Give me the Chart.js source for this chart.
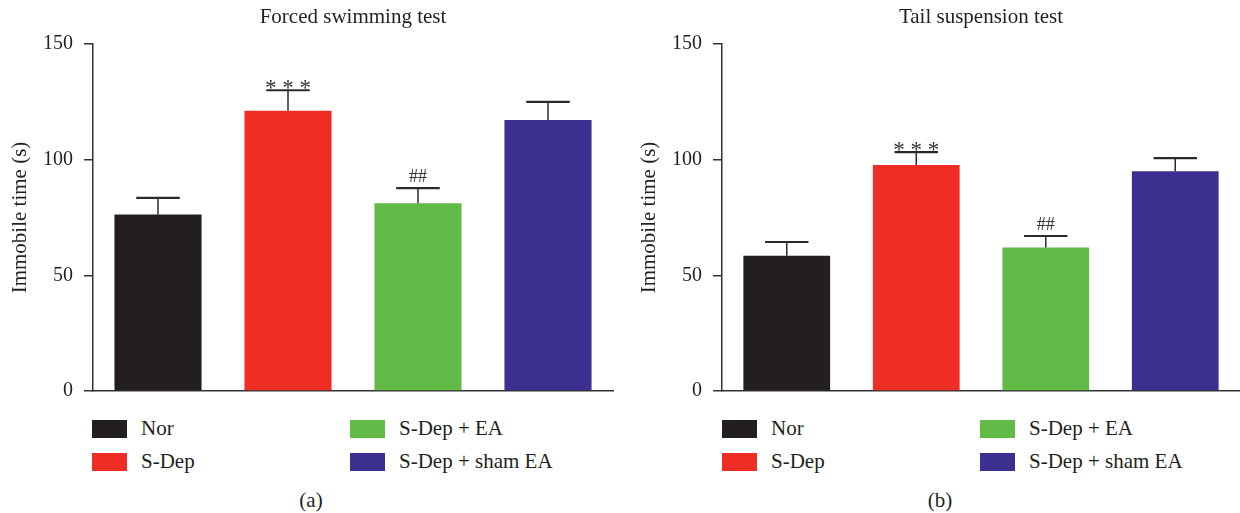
<!DOCTYPE html>
<html>
<head>
<meta charset="utf-8">
<script src="https://cdn.jsdelivr.net/npm/chart.js@4.4.1/dist/chart.umd.min.js"></script>
<style>
  body { margin: 0; background: #fff; }
  #wrap { position: relative; width: 1240px; height: 513px; font-family: 'Liberation Serif', 'DejaVu Serif', serif; color: #231f20; }
  .panel { position: absolute; top: 0; width: 620px; height: 513px; }
  .panel canvas { position: absolute; left: 0; top: 0; }
  .item { position: absolute; height: 18px; font-size: 21px; line-height: 18px; white-space: nowrap; }
  .item span.sw { position: absolute; left: 0; top: 0; width: 35px; height: 18px; }
  .item span.tx { position: absolute; left: 49px; top: -1px; }
  .cap { position: absolute; top: 488px; font-size: 21px; transform: translateX(-50%); }
</style>
</head>
<body>
<div id="wrap">
  <div class="panel" id="panel-a" style="left:0"><canvas id="chart-a" width="620" height="414"></canvas></div>
  <div class="panel" id="panel-b" style="left:620px"><canvas id="chart-b" width="620" height="414"></canvas></div>
</div>
<script>
const groups = ['Nor', 'S-Dep', 'S-Dep + EA', 'S-Dep + sham EA'];
const groupColors = ['#231f20', '#ee2e24', '#62bb46', '#3b2f8f'];
const yTicks = [0, 50, 100, 150];

const swimTitle = 'Forced swimming test';
const swimMeans = [76.3, 121.1, 81.2, 117.2];
const swimSem = [7.2, 8.9, 6.5, 7.8];
const swimMarks = ['', '* * *', '##', ''];

const tailTitle = 'Tail suspension test';
const tailMeans = [58.5, 97.7, 62.0, 95.0];
const tailSem = [5.9, 5.6, 5.0, 5.7];
const tailMarks = ['', '* * *', '##', ''];

const serif = "'Liberation Serif', 'DejaVu Serif', serif";
const ink = '#231f20';

// error bars, significance marks and the panel title
const annotatePlugin = {
  id: 'annotate',
  afterDatasetsDraw(chart, args, opts) {
    const ctx = chart.ctx;
    const y = chart.scales.y;
    const meta = chart.getDatasetMeta(0);
    ctx.save();
    meta.data.forEach((bar, i) => {
      const topPx = y.getPixelForValue(opts.means[i] + opts.errors[i]);
      const half = bar.width / 4;
      ctx.strokeStyle = '#2b2b2b';
      ctx.lineWidth = 1.5;
      ctx.beginPath();
      ctx.moveTo(bar.x, bar.y);
      ctx.lineTo(bar.x, topPx);
      ctx.stroke();
      ctx.lineWidth = 2.2;
      ctx.beginPath();
      ctx.moveTo(bar.x - half, topPx);
      ctx.lineTo(bar.x + half, topPx);
      ctx.stroke();
      const mark = opts.marks[i];
      if (mark) {
        ctx.fillStyle = '#333';
        ctx.textAlign = 'center';
        ctx.textBaseline = 'alphabetic';
        if (mark.indexOf('*') >= 0) {
          ctx.font = '23px ' + serif;
          ctx.fillText(mark, bar.x, topPx + 5);
        } else {
          ctx.font = '18px ' + serif;
          ctx.fillText(mark, bar.x, topPx - 6);
        }
      }
    });
    const area = chart.chartArea;
    ctx.fillStyle = ink;
    ctx.font = '21px ' + serif;
    ctx.textAlign = 'center';
    ctx.textBaseline = 'alphabetic';
    ctx.fillText(opts.title, (area.left + area.right) / 2, 23);
    ctx.restore();
  }
};

function makeChart(canvasId, title, means, errors, marks, padLeft, padRight) {
  const ctx = document.getElementById(canvasId).getContext('2d');
  return new Chart(ctx, {
    type: 'bar',
    data: {
      labels: groups,
      datasets: [{
        data: means,
        backgroundColor: groupColors,
        borderWidth: 0,
        barPercentage: 0.67,
        categoryPercentage: 1.0
      }]
    },
    options: {
      responsive: false,
      animation: false,
      layout: { padding: { top: 44, bottom: 10, left: padLeft, right: padRight } },
      plugins: {
        legend: { display: false },
        tooltip: { enabled: false },
        annotate: { title, means, errors, marks }
      },
      scales: {
        x: {
          ticks: { display: false },
          grid: { display: false, drawTicks: false },
          border: { display: true, color: '#333', width: 1.5 },
          afterFit: axis => { axis.height = 0; }
        },
        y: {
          min: 0,
          max: 150,
          afterBuildTicks: axis => { axis.ticks = yTicks.map(v => ({ value: v })); },
          afterFit: axis => { axis.width = 93; },
          ticks: { font: { family: serif, size: 20 }, color: ink, padding: 11 },
          grid: { drawOnChartArea: false, drawTicks: true, tickLength: 9, color: '#333', lineWidth: 1.5 },
          border: { display: true, color: '#333', width: 1.5 },
          title: {
            display: true,
            text: 'Immobile time (s)',
            font: { family: serif, size: 21 },
            color: ink,
            padding: { top: 8, bottom: 0 }
          }
        }
      }
    },
    plugins: [annotatePlugin]
  });
}

function buildLegend(panelId, left, caption, captionX) {
  const panel = document.getElementById(panelId);
  groups.forEach((name, i) => {
    const item = document.createElement('div');
    item.className = 'item';
    item.style.left = (left + (i >= 2 ? 258 : 0)) + 'px';
    item.style.top = (i % 2 === 0 ? 420 : 453) + 'px';
    item.innerHTML = '<span class="sw" style="background:' + groupColors[i] + '"></span><span class="tx"></span>';
    item.querySelector('.tx').textContent = name;
    panel.appendChild(item);
  });
  const cap = document.createElement('div');
  cap.className = 'cap';
  cap.style.left = captionX + 'px';
  cap.textContent = caption;
  panel.appendChild(cap);
}

makeChart('chart-a', swimTitle, swimMeans, swimSem, swimMarks, 0, 7);
makeChart('chart-b', tailTitle, tailMeans, tailSem, tailMarks, 9, 0);
buildLegend('panel-a', 92, '(a)', 311);
buildLegend('panel-b', 102, '(b)', 320);
</script>
</body>
</html>
